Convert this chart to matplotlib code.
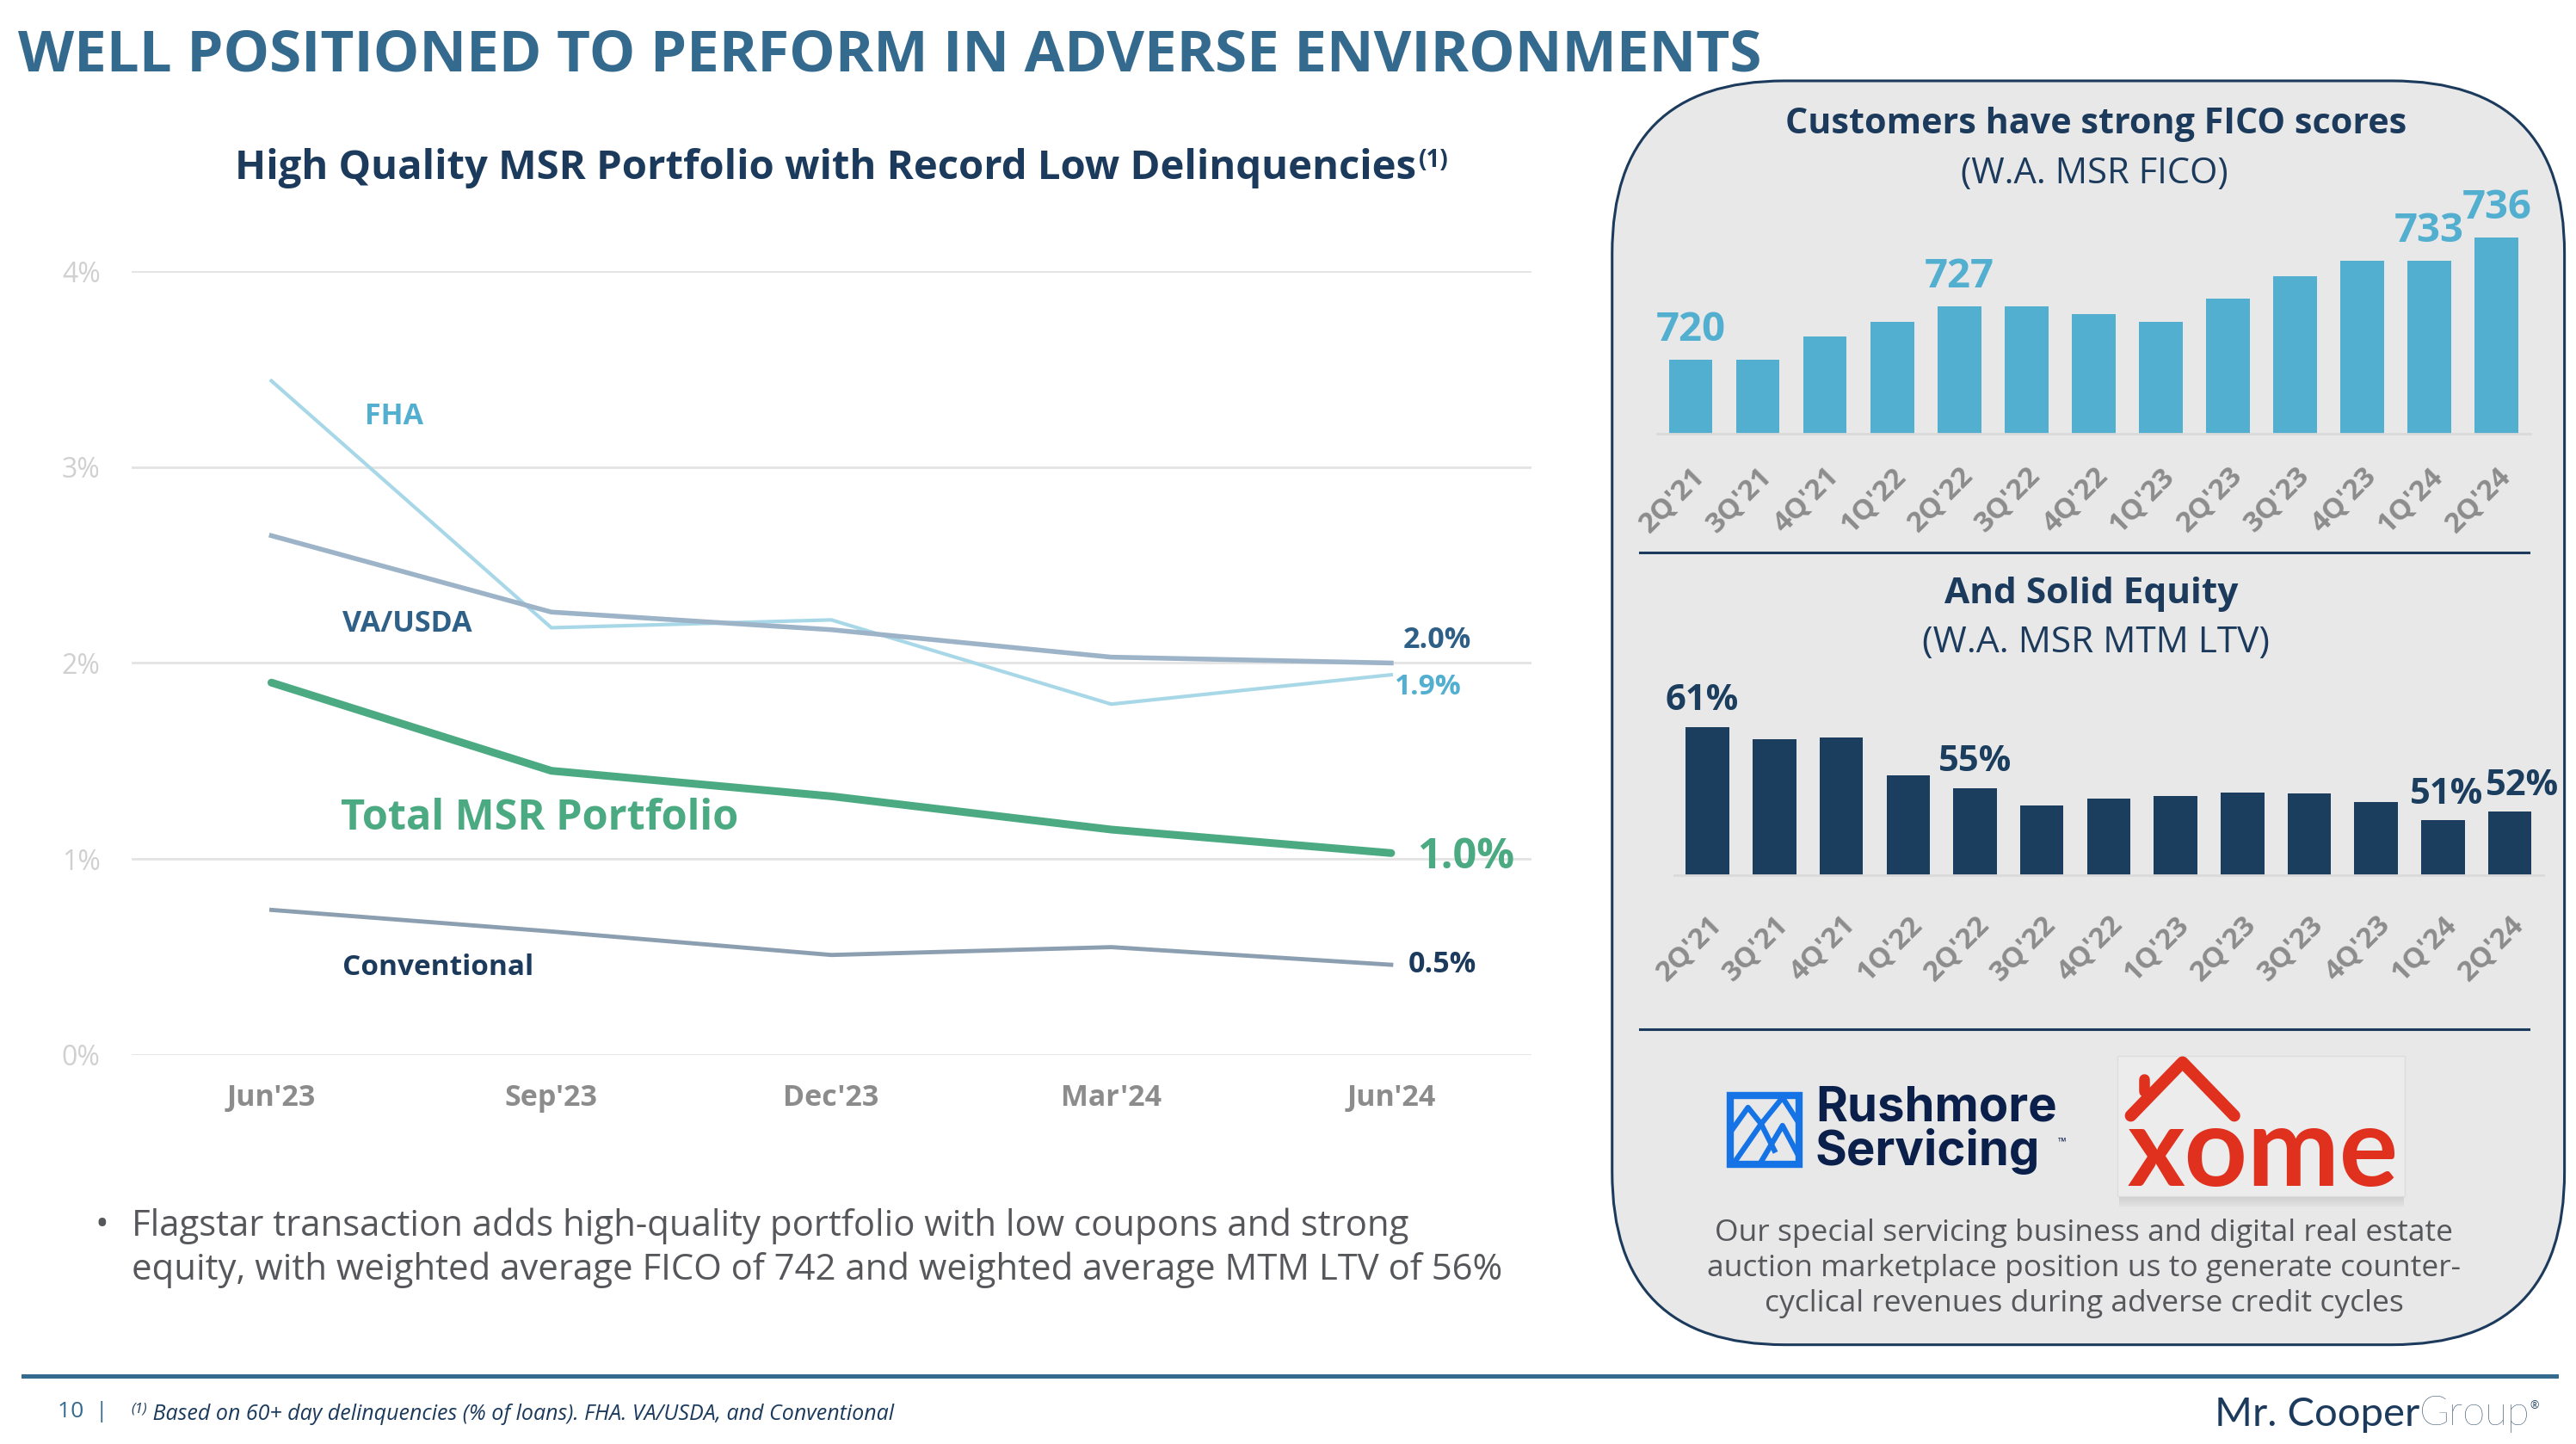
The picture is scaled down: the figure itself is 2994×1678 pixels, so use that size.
import matplotlib.pyplot as plt
from matplotlib.patches import FancyBboxPatch, Rectangle

# Delinquency rates (% of loans, 60+ days)
months = ["Jun'23", "Sep'23", "Dec'23", "Mar'24", "Jun'24"]
fha = [3.44, 2.18, 2.22, 1.79, 1.94]
va_usda = [2.65, 2.26, 2.17, 2.03, 2.00]
total_msr = [1.90, 1.45, 1.32, 1.15, 1.03]
conventional = [0.74, 0.63, 0.51, 0.55, 0.46]

# Right panel: W.A. MSR FICO and W.A. MSR MTM LTV
quarters = ["2Q'21", "3Q'21", "4Q'21", "1Q'22", "2Q'22", "3Q'22", "4Q'22",
            "1Q'23", "2Q'23", "3Q'23", "4Q'23", "1Q'24", "2Q'24"]
fico = [720, 720, 723, 725, 727, 727, 726, 725, 728, 731, 733, 733, 736]
ltv = [61.0, 59.7, 59.9, 55.9, 54.6, 52.8, 53.5, 53.8, 54.1, 54.0, 53.1, 51.2, 52.1]
fico_labeled = [0, 4, 11, 12]
ltv_labeled = [0, 4, 11, 12]

BLUE = '#356A8F'
NAVY = '#1B3A5C'
LIGHTBLUE = '#52AFD0'
GREEN = '#4BAA82'
GREY_TXT = '#55575B'
TICK_GREY = '#8C8C8C'

plt.rcParams['font.family'] = ['Open Sans', 'DejaVu Sans']

# layout in "slide units" (1568 x 878.8 == 2994 x 1678 px)
W, H = 1568, 878.8


def rect(x0, y0, x1, y1):
    return [x0 / W, 1 - y1 / H, (x1 - x0) / W, (y1 - y0) / H]


fig = plt.figure(figsize=(29.94, 16.78), dpi=100)
fig.patch.set_facecolor('white')

bg = fig.add_axes([0, 0, 1, 1])
bg.set_xlim(0, W)
bg.set_ylim(H, 0)
bg.axis('off')

# titols
bg.text(10.8, 43.3, 'WELL POSITIONED TO PERFORM IN ADVERSE ENVIRONMENTS',
        fontsize=48.5, fontweight='bold', color=BLUE, va='baseline')
sub = bg.text(143, 108.7, 'High Quality MSR Portfolio with Record Low Delinquencies',
              fontsize=34, fontweight='bold', color=NAVY, va='baseline')
bg.annotate('(1)', xy=(1, 1), xycoords=sub, xytext=(2, 0), textcoords='offset points',
            fontsize=20, fontweight='bold', color=NAVY, va='top', ha='left')

# ---------------- line chart ----------------
ax = fig.add_axes(rect(80, 165, 932, 642))
x = range(len(months))
ax.plot(x, fha, color='#A8D8E8', lw=3, zorder=3)
ax.plot(x, va_usda, color='#9DB3C7', lw=4, zorder=3)
ax.plot(x, conventional, color='#8C9FB0', lw=3.5, zorder=3)
ax.plot(x, total_msr, color=GREEN, lw=6.5, zorder=4, solid_capstyle='round')
ax.set_xlim(-0.5, len(months) - 0.5)
ax.set_ylim(0, 4)
ax.set_yticks([0, 1, 2, 3, 4])
ax.set_yticklabels(['0%', '1%', '2%', '3%', '4%'])
ax.set_xticks(list(x))
ax.set_xticklabels(months)
ax.grid(axis='y', color='#E3E3E3', lw=2)
ax.set_axisbelow(True)
for s in ax.spines.values():
    s.set_visible(False)
ax.tick_params(axis='y', length=0, pad=26, labelsize=23, labelcolor='#D0D0D0')
ax.tick_params(axis='x', length=0, pad=24, labelsize=24.5, labelcolor=TICK_GREY)
for lab in ax.get_xticklabels():
    lab.set_fontweight('bold')

ax.text(0.335, 3.26, 'FHA', color=LIGHTBLUE, fontsize=24.5, fontweight='bold', va='center')
ax.text(0.254, 2.20, 'VA/USDA', color='#2E6088', fontsize=24.5, fontweight='bold', va='center')
ax.text(0.247, 1.205, 'Total MSR Portfolio', color=GREEN, fontsize=35, fontweight='bold', va='center')
ax.text(0.254, 0.447, 'Conventional', color=NAVY, fontsize=24, fontweight='bold', va='center')

last = len(months) - 1
ax.annotate(f'{va_usda[-1]:.1f}%', (last, va_usda[-1]), xytext=(10, 19), textcoords='offset points',
            color='#2E5F87', fontsize=24.5, fontweight='bold', va='center')
ax.annotate(f'{fha[-1]:.1f}%', (last, fha[-1]), xytext=(3, -10), textcoords='offset points',
            color=LIGHTBLUE, fontsize=24, fontweight='bold', va='center')
ax.annotate(f'{total_msr[-1]:.1f}%', (last, total_msr[-1]), xytext=(22, -4), textcoords='offset points',
            color=GREEN, fontsize=35, fontweight='bold', va='center')
ax.annotate(f'{conventional[-1]:.1f}%', (last, conventional[-1]), xytext=(14, 0), textcoords='offset points',
            color=NAVY, fontsize=24.5, fontweight='bold', va='center')

# bullet
bg.text(58, 746, '\u2022', fontsize=30, color=GREY_TXT, va='center')
bg.text(80, 759.5, 'Flagstar transaction adds high-quality portfolio with low coupons and strong\n'
        'equity, with weighted average FICO of 742 and weighted average MTM LTV of 56%',
        fontsize=30.2, color=GREY_TXT, va='center', linespacing=1.24)

# ---------------- right panel ----------------
panel = FancyBboxPatch((981.3, 49.2), 1561 - 981.3, 818.4 - 49.2,
                       boxstyle='round,pad=0,rounding_size=105',
                       facecolor='#E8E8E8', edgecolor=NAVY, lw=2.2)
bg.add_patch(panel)

bg.text(1276, 75.8, 'Customers have strong FICO scores', fontsize=29.7, fontweight='bold',
        color=NAVY, ha='center', va='center')
bg.text(1275, 105.8, '(W.A. MSR FICO)', fontsize=30, color=NAVY, ha='center', va='center')
bg.text(1273, 361.4, 'And Solid Equity', fontsize=30.5, fontweight='bold',
        color=NAVY, ha='center', va='center')
bg.text(1276, 391.4, '(W.A. MSR MTM LTV)', fontsize=30.5, color=NAVY, ha='center', va='center')

bg.plot([998, 1539], [336.4, 336.4], color=NAVY, lw=2.2)
bg.plot([998, 1539], [626.4, 626.4], color=NAVY, lw=2.2)

# FICO bars
ax1 = fig.add_axes(rect(1008.65, 126.2, 1540.1, 263.7))
ax1.patch.set_visible(False)
ax1.bar(range(len(quarters)), fico, width=0.65, color=LIGHTBLUE)
ax1.set_xlim(-0.5, len(quarters) - 0.5)
ax1.set_ylim(710.3, 740)
for i in fico_labeled:
    ax1.annotate(f'{fico[i]:.0f}', (i, fico[i]), xytext=(0, 8), textcoords='offset points',
                 ha='center', va='bottom', fontsize=34, fontweight='bold', color=LIGHTBLUE)

# LTV bars
ax2 = fig.add_axes(rect(1019.05, 401.7, 1548.1, 532.4))
ax2.patch.set_visible(False)
ax2.bar(range(len(quarters)), ltv, width=0.65, color='#1B3D5E')
ax2.set_xlim(-0.5, len(quarters) - 0.5)
ax2.set_ylim(45.5, 68)
ltv_dx = {0: -5, 4: 0, 11: 3, 12: 10}
for i in ltv_labeled:
    ax2.annotate(f'{ltv[i]:.0f}%', (i, ltv[i]), xytext=(ltv_dx[i], 7), textcoords='offset points',
                 ha='center', va='bottom', fontsize=30, fontweight='bold', color='#1B3D5E')

for a, pad in ((ax1, 24), (ax2, 30)):
    for s in ('top', 'right', 'left'):
        a.spines[s].set_visible(False)
    a.spines['bottom'].set_color('#DADADA')
    a.spines['bottom'].set_linewidth(2)
    a.set_yticks([])
    a.set_xticks(range(len(quarters)))
    a.set_xticklabels(quarters, rotation=45, ha='right', rotation_mode='anchor',
                      fontsize=24, fontweight='bold', color=TICK_GREY)
    a.tick_params(axis='x', length=0, pad=pad)

# logos
bg.add_patch(Rectangle((1053, 666.5), 42, 42, fill=False, edgecolor='#1673E6', lw=6))
bg.plot([1054, 1064, 1072, 1085, 1094], [688, 674, 684, 668, 682], color='#1673E6', lw=4.5)
bg.plot([1056, 1072, 1080], [707, 684, 700], color='#1673E6', lw=4.5)
bg.plot([1072, 1085, 1094], [707, 685, 702], color='#1673E6', lw=4.5)
rush = bg.text(1105, 709, 'Rushmore\nServicing', fontsize=40.5, fontweight='bold', color='#0B1F4B',
               family=['Inter', 'DejaVu Sans'], va='baseline', linespacing=0.93)
bg.annotate('\u2122', xy=(1, 0.3), xycoords=rush, xytext=(1, 0), textcoords='offset points',
            fontsize=9, color='#0B1F4B', va='bottom')

for k in range(6):
    bg.add_patch(Rectangle((1290, 728 + k), 173, 1.2, color='#B8B8B8', alpha=0.5 - 0.07 * k, lw=0))
bg.add_patch(Rectangle((1289, 642.4), 174.7, 85.6, facecolor='#ECECEC', edgecolor='#DDDDDD', lw=1))
bg.plot([1297, 1328.5, 1360], [679, 646.5, 679], color='#E0301E', lw=10,
        solid_capstyle='round', solid_joinstyle='round')
bg.plot([1305, 1305], [657, 664], color='#E0301E', lw=9, solid_capstyle='round')
bg.text(1377.5, 721.7, 'xome', fontsize=92, fontweight='bold', color='#E0301E',
        family=['Lato', 'DejaVu Sans'], ha='center', va='baseline')

bg.text(1268.5, 772, 'Our special servicing business and digital real estate\n'
        'auction marketplace position us to generate counter-\n'
        'cyclical revenues during adverse credit cycles',
        fontsize=25.5, color=GREY_TXT, ha='center', va='center', linespacing=1.26)

# footer
bg.plot([14, 1556], [837.5, 837.5], color=BLUE, lw=3.6)
bg.text(35, 859, '10  |', fontsize=19, color=BLUE, va='center')
fn = bg.text(80, 862, '(1)', fontsize=12, style='italic', color=NAVY, va='bottom')
bg.annotate(' Based on 60+ day delinquencies (% of loans). FHA. VA/USDA, and Conventional',
            xy=(1, 0), xycoords=fn, xytext=(0, -7), textcoords='offset points',
            fontsize=18, style='italic', color=NAVY, va='bottom')
mr = bg.text(1348, 868, 'Mr. Cooper', fontsize=34, color=NAVY,
             family=['Lato', 'DejaVu Sans'], ha='left', va='baseline')
grp = bg.annotate('Group', xy=(1, 0), xycoords=mr, fontsize=34, color=NAVY,
                  family=['Lato', 'DejaVu Sans'], fontweight='light', va='bottom')
bg.annotate('\u00ae', xy=(1, 0.75), xycoords=grp, fontsize=9, color=NAVY, va='center')

fig.savefig('out.png', dpi=100, facecolor='white')
